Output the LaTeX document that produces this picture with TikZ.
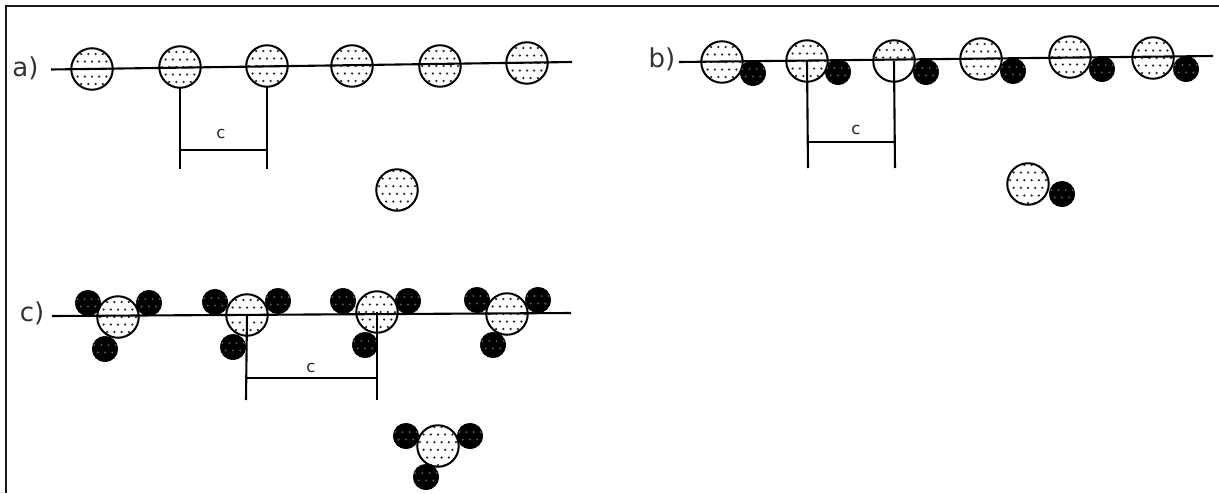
\documentclass[tikz,border=0pt]{standalone}
\usepackage{fontspec}
\setmainfont{DejaVu Sans}
\newcommand{\ballDots}[3]{%
  \begin{scope}[shift={(path picture bounding box.center)}]
    \foreach \r [count=\i] in {#1} {
      \pgfmathsetmacro{\st}{mod(\i,2)*3.6}
      \foreach \c in {-4,...,3} {
        \fill[#2] ({\c*7.2+\st},\r) circle (#3);
      }
    }
  \end{scope}}
\tikzset{
  ink/.style={draw=black},
  bigball/.style={circle,ink,line width=2pt,fill=white,inner sep=0pt,outer sep=0pt,
    minimum size=41.5pt,path picture={\ballDots{-15,-7.5,0,7.5,15}{black!85}{1.25}}},
  loneball/.style={circle,ink,line width=2pt,fill=white,inner sep=0pt,outer sep=0pt,
    minimum size=41.5pt,path picture={\ballDots{-19,-11.5,-3.8,3.8,11.5,19}{black!85}{1.25}}},
  halfball/.style={circle,ink,line width=2pt,fill=white,inner sep=0pt,outer sep=0pt,
    minimum size=41.5pt,path picture={\ballDots{-18,-11,-3.5}{black!85}{1.25}}},
  smallball/.style={circle,draw=black,fill=black,line width=0.6pt,inner sep=0pt,outer sep=0pt,
    minimum size=25.5pt,path picture={\ballDots{-4,3.5}{black!65}{1.1}}},
  axis/.style={ink,line width=2.1pt},
  guide/.style={ink,line width=2.1pt},
  dimline/.style={ink,line width=1.6pt},
  dimend/.style={ink,line width=2.4pt},
  partlabel/.style={inner sep=0pt,font=\fontsize{26}{26}\selectfont,text=black!80},
  clabel/.style={inner sep=0pt,font=\fontsize{16.5}{16.5}\selectfont,text=black!85},
  frameline/.style={draw=black!90,line width=2.2pt}
}
\begin{document}
\begin{tikzpicture}[x=1pt,y=-1pt]
\useasboundingbox (0,0) rectangle (1219,493);
% frame
\coordinate (fBL) at (6,493);
\coordinate (fTL) at (6,6);
\coordinate (fTR) at (1219,6);
\draw[frameline] (fBL) -- (fTL) -- (fTR);
% ---------- a
\node[partlabel] (la) at (25.5,68) {a)};
\foreach \n/\x/\y in {a1/92/69,a2/180/67,a3/267/66,a4/352/66,a5/440/66,a6/527/63}
  \node[bigball] (\n) at (\x,\y) {};
\node[loneball] (a7) at (397,190) {};
\coordinate (aL) at (51,69.5);
\coordinate (aR) at (572,62);
\draw[axis] (aL) -- (aR);
\coordinate (a2d) at (180,169);
\coordinate (a3d) at (267,169);
\draw[guide] (a2.south) -- (a2d);
\draw[guide] (a3.south) -- (a3d);
\coordinate (a2m) at (180,150);
\coordinate (a3m) at (267,150);
\draw[dimline] (a2m) -- (a3m);
\draw[dimend] (a2m) -- ++(10,0);
\draw[dimend] (a3m) -- ++(-10,0);
\node[clabel] (ca) at (221,134) {c};
% ---------- b
\node[partlabel] (lb) at (662,59) {b)};
\foreach \n/\x/\y in {b1/722/62,b2/807/61,b4/981/59,b5/1070/57,b6/1153/58}
  \node[bigball] (\n) at (\x,\y) {};
\node[halfball] (b3) at (894,61) {};
\coordinate (bL) at (679,62);
\coordinate (bR) at (1213,56);
\draw[axis] (bL) -- (bR);
\foreach \n/\x/\y in {s1/753/73,s2/838/72,s3/926/72,s4/1013/71,s5/1102/69,s6/1186/69}
  \node[smallball] (\n) at (\x,\y) {};
\node[loneball] (b7) at (1028,184) {};
\node[smallball] (s7) at (1062,194) {};
\coordinate (b2d) at (808,168);
\coordinate (b3d) at (895,168);
\draw[guide] (b2.center) -- (b2d);
\draw[guide] (b3.center) -- (b3d);
\coordinate (b2m) at (808,142);
\coordinate (b3m) at (895,142);
\draw[dimline] (b2m) -- (b3m);
\draw[dimend] (b2m) -- ++(10,0);
\draw[dimend] (b3m) -- ++(-10,0);
\node[clabel] (cb) at (856,130) {c};
% ---------- c
\node[partlabel] (lc) at (32,313) {c)};
\foreach \n/\x/\y in {c1/118/317,c2/247/315,c3/377/312,c4/507/314}
  \node[bigball] (\n) at (\x,\y) {};
\coordinate (cL) at (52,316);
\coordinate (cR) at (571,313);
\draw[axis] (cL) -- (cR);
\foreach \n/\x/\y in {t1/88/303,t2/149/303,t3/105/349,
                      t4/215/302,t5/278/301,t6/233/347,
                      t7/343/301,t8/408/301,t9/365/345,
                      t10/477/300,t11/538/300,t12/493/345}
  \node[smallball] (\n) at (\x,\y) {};
\node[loneball] (c5) at (438,446) {};
\foreach \n/\x/\y in {t13/406/436,t14/470/436,t15/426/477}
  \node[smallball] (\n) at (\x,\y) {};
\coordinate (c2d) at (246,400);
\coordinate (c3d) at (377,400);
\draw[guide] (c2.center) -- (c2d);
\draw[guide] (c3.center) -- (c3d);
\coordinate (c2m) at (246,378);
\coordinate (c3m) at (377,378);
\draw[dimline] (c2m) -- (c3m);
\draw[dimend] (c2m) -- ++(14,0);
\draw[dimend] (c3m) -- ++(-12,0);
\node[clabel] (cc) at (311,368) {c};
\end{tikzpicture}
\end{document}
